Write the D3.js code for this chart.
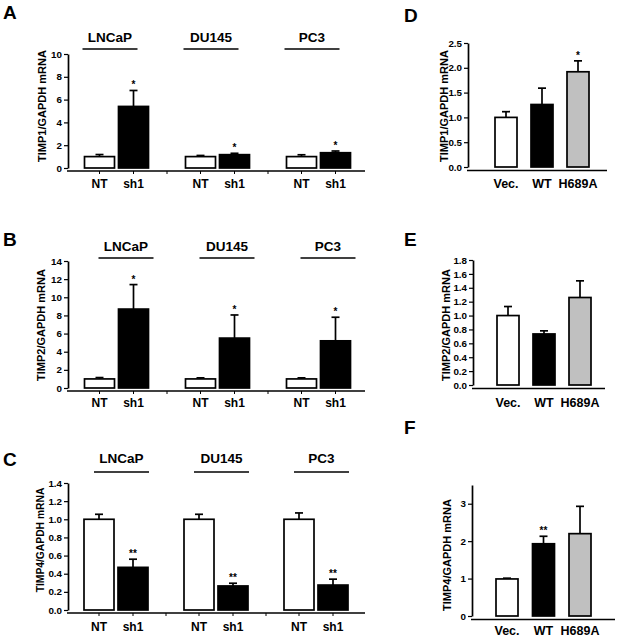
<!DOCTYPE html>
<html><head><meta charset="utf-8">
<script src="https://cdn.jsdelivr.net/npm/d3@7"></script>
<style>
html,body{margin:0;padding:0;background:#fff;}
svg text{font-family:"Liberation Sans",Arial,sans-serif;font-weight:bold;fill:#000;}
</style></head>
<body><svg id="fig" width="619" height="639"></svg>
<script>
// ---------- DATA ----------
const cellLines = ["LNCaP", "DU145", "PC3"];
const shConds = ["NT", "sh1"];
// order: LNCaP NT, LNCaP sh1, DU145 NT, DU145 sh1, PC3 NT, PC3 sh1
const timp1ShMean = [1.0, 5.4, 1.0, 1.17, 1.0, 1.34];
const timp1ShErr  = [0.18, 1.4, 0.1, 0.12, 0.16, 0.15];
const timp1ShSig  = ["", "*", "", "*", "", "*"];
const timp2ShMean = [1.0, 8.7, 1.0, 5.5, 1.0, 5.2];
const timp2ShErr  = [0.15, 2.7, 0.12, 2.55, 0.12, 2.6];
const timp2ShSig  = ["", "*", "", "*", "", "*"];
const timp4ShMean = [1.0, 0.47, 1.0, 0.265, 1.0, 0.275];
const timp4ShErr  = [0.055, 0.09, 0.055, 0.03, 0.07, 0.065];
const timp4ShSig  = ["", "**", "", "**", "", "**"];

const mutConds = ["Vec.", "WT", "H689A"];
const timp1MutMean = [1.0, 1.26, 1.92];
const timp1MutErr  = [0.115, 0.33, 0.22];
const timp1MutSig  = ["", "", "*"];
const timp2MutMean = [1.0, 0.735, 1.26];
const timp2MutErr  = [0.13, 0.045, 0.24];
const timp2MutSig  = ["", "", ""];
const timp4MutMean = [0.99, 1.93, 2.2];
const timp4MutErr  = [0.02, 0.2, 0.73];
const timp4MutSig  = ["", "**", ""];

const ticksA = [0, 2, 4, 6, 8, 10];
const ticksB = [0, 2, 4, 6, 8, 10, 12, 14];
const ticksC = [0, 0.2, 0.4, 0.6, 0.8, 1.0, 1.2, 1.4];
const ticksD = [0, 0.5, 1.0, 1.5, 2.0, 2.5];
const ticksE = [0, 0.2, 0.4, 0.6, 0.8, 1.0, 1.2, 1.4, 1.6, 1.8];
const ticksF = [0, 1, 2, 3];

// ---------- DRAWING ----------
const svg = d3.select("#fig");
const SW = 1.7;

function drawYAxis(g, y, ticks, fmt, x0) {
  const ax = d3.axisLeft(y).tickValues(ticks).tickFormat(d3.format(fmt)).tickSize(4).tickSizeOuter(0).tickPadding(2);
  const a = g.append("g").attr("transform", `translate(${x0},0)`).call(ax);
  a.select(".domain").attr("stroke", "#000").attr("stroke-width", SW);
  a.selectAll(".tick line").attr("stroke", "#000").attr("stroke-width", 1.2);
  a.selectAll(".tick text").attr("font-size", 9.8).attr("font-family", '"Liberation Sans",Arial,sans-serif').attr("font-weight", "bold").attr("fill", "#000");
}

function bar(g, x, w, y, v, e, fill, sig, yZero) {
  const cx = x + w / 2;
  const top = y(v + e);
  g.append("line").attr("x1", cx).attr("x2", cx).attr("y1", y(v)).attr("y2", top).attr("stroke", "#000").attr("stroke-width", SW);
  g.append("line").attr("x1", cx - 4).attr("x2", cx + 4).attr("y1", top).attr("y2", top).attr("stroke", "#000").attr("stroke-width", SW);
  g.append("rect").attr("x", x).attr("y", y(v)).attr("width", w).attr("height", yZero - y(v))
    .attr("fill", fill).attr("stroke", "#000").attr("stroke-width", SW);
  if (sig) g.append("text").attr("x", cx).attr("y", top - 2).attr("text-anchor", "middle").attr("font-size", 10).text(sig);
}

function letter(t, x, y) {
  svg.append("text").attr("x", x).attr("y", y).attr("font-size", 19).text(t);
}
function yLabel(t, cx, cy, fs) {
  svg.append("text").attr("transform", `translate(${cx},${cy}) rotate(-90)`).attr("dy", "0.36em")
    .attr("text-anchor", "middle").attr("font-size", fs).text(t);
}

function shPanel(L, means, errs, sigs, ticks, domain, fmt, label) {
  const g = svg.append("g");
  const y = d3.scaleLinear().domain(domain).range([L.yZero, L.yTop]);
  const outer = d3.scaleBand().domain(cellLines).range(L.groupRange);
  const inner = d3.scaleBand().domain(shConds).range([-32, 32]).paddingInner(4 / 34);
  drawYAxis(g, y, ticks, fmt, L.x0);
  const axY = L.yZero + 3;
  g.append("line").attr("x1", L.x0 - 1).attr("x2", L.xEnd).attr("y1", axY).attr("y2", axY).attr("stroke", "#000").attr("stroke-width", SW);
  const tickXs = [];
  cellLines.forEach((c, gi) => {
    const gc = outer(c) + outer.bandwidth() / 2;
    shConds.forEach(s => tickXs.push(gc + inner(s) + inner.bandwidth() / 2));
    if (gi > 0) tickXs.push(outer(c));
  });
  tickXs.forEach(tx => g.append("line").attr("x1", tx).attr("x2", tx).attr("y1", axY).attr("y2", axY + 3).attr("stroke", "#000").attr("stroke-width", 1));
  cellLines.forEach((c, gi) => {
    const gc = outer(c) + outer.bandwidth() / 2;
    shConds.forEach((s, si) => {
      const i = gi * 2 + si;
      const bx = gc + inner(s);
      bar(g, bx, inner.bandwidth(), y, means[i], errs[i], si === 0 ? "#fff" : "#000", sigs[i], L.yZero);
      g.append("text").attr("x", bx + inner.bandwidth() / 2).attr("y", L.xLabelBase).attr("text-anchor", "middle").attr("font-size", 12).text(s);
    });
    const lx = gc - 32 + L.lineOffset;
    g.append("line").attr("x1", lx).attr("x2", lx + 55).attr("y1", L.lineY).attr("y2", L.lineY).attr("stroke", "#000").attr("stroke-width", 1.3);
    g.append("text").attr("x", lx + 27.5).attr("y", L.groupBase).attr("text-anchor", "middle").attr("font-size", 13.5).text(c);
  });
  yLabel(label, L.ylx, L.yly, L.ylfs);
}

function mutPanel(L, means, errs, sigs, ticks, domain, fmt, label) {
  const g = svg.append("g");
  const y = d3.scaleLinear().domain(domain).range([L.yZero, L.yTop]);
  const x = d3.scalePoint().domain(mutConds).range(L.centers);
  const fills = ["#fff", "#000", "#c0c0c0"];
  drawYAxis(g, y, ticks, fmt, L.x0);
  const axY = L.yZero + 3.5;
  g.append("line").attr("x1", L.x0 - 1).attr("x2", L.xEnd).attr("y1", axY).attr("y2", axY).attr("stroke", "#000").attr("stroke-width", SW);
  mutConds.forEach((c, i) => {
    bar(g, x(c) - 11, 22, y, means[i], errs[i], fills[i], sigs[i], L.yZero);
    g.append("text").attr("x", x(c)).attr("y", L.xLabelBase).attr("text-anchor", "middle").attr("font-size", 12.5).text(c);
  });
  yLabel(label, L.ylx, L.yly, L.ylfs);
}

// Panel A
letter("A", 3, 19);
shPanel({x0: 68, yTop: 54, yZero: 168, xEnd: 365, groupRange: [66, 369], lineOffset: -2, lineY: 49, groupBase: 42, xLabelBase: 188, ylx: 42, yly: 106, ylfs: 11},
  timp1ShMean, timp1ShErr, timp1ShSig, ticksA, [0, 10], "d", "TIMP1/GAPDH mRNA");
// Panel B
letter("B", 3, 246);
shPanel({x0: 68, yTop: 261, yZero: 388, xEnd: 365, groupRange: [66, 369], lineOffset: 14, lineY: 258, groupBase: 251, xLabelBase: 407, ylx: 41, yly: 325, ylfs: 11},
  timp2ShMean, timp2ShErr, timp2ShSig, ticksB, [0, 14], "d", "TIMP2/GAPDH mRNA");
// Panel C
letter("C", 3, 466);
shPanel({x0: 68, yTop: 483, yZero: 610, xEnd: 365, groupRange: [66, 366], lineOffset: 10, lineY: 472, groupBase: 463, xLabelBase: 631, ylx: 40, yly: 540, ylfs: 10.3},
  timp4ShMean, timp4ShErr, timp4ShSig, ticksC, [0, 1.4], ".1f", "TIMP4/GAPDH mRNA");
// Panel D
letter("D", 404, 22);
mutPanel({x0: 468, yTop: 43, yZero: 167, xEnd: 607, centers: [506, 578], xLabelBase: 188, ylx: 444, yly: 106, ylfs: 11},
  timp1MutMean, timp1MutErr, timp1MutSig, ticksD, [0, 2.5], ".1f", "TIMP1/GAPDH mRNA");
// Panel E
letter("E", 404, 246);
mutPanel({x0: 473, yTop: 260, yZero: 385, xEnd: 605, centers: [508, 580], xLabelBase: 407, ylx: 446, yly: 325, ylfs: 11},
  timp2MutMean, timp2MutErr, timp2MutSig, ticksE, [0, 1.8], ".1f", "TIMP2/GAPDH mRNA");
// Panel F
letter("F", 404, 434);
mutPanel({x0: 472, yTop: 485, yZero: 616, xEnd: 615, centers: [507, 580], xLabelBase: 635, ylx: 447, yly: 555, ylfs: 11},
  timp4MutMean, timp4MutErr, timp4MutSig, ticksF, [0, 3.5], "d", "TIMP4/GAPDH mRNA");
</script></body></html>
